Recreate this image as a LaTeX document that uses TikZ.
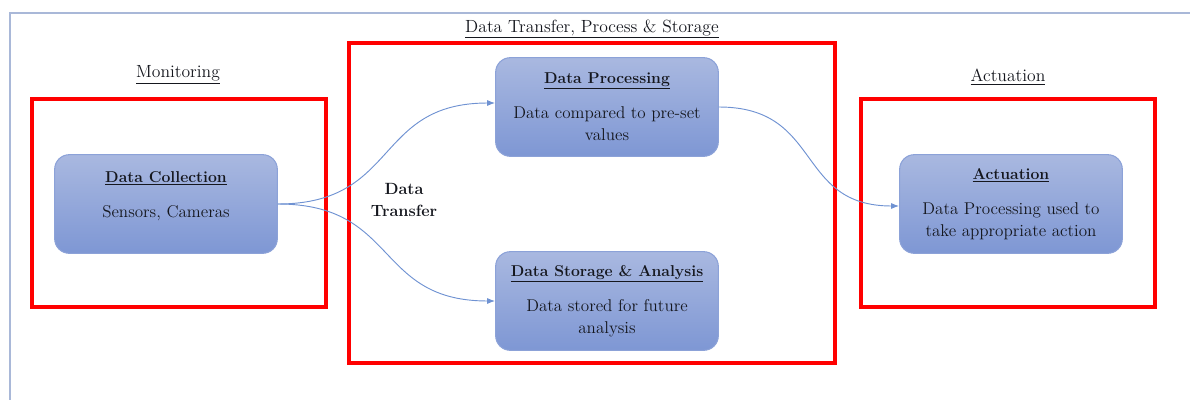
\documentclass[tikz,border=0pt]{standalone}
\usepackage{fontspec}
\usetikzlibrary{arrows.meta}

\definecolor{framecol}{HTML}{A9B8D8}
\definecolor{boxtop}{HTML}{A9B8E0}
\definecolor{boxbot}{HTML}{7E97D4}
\definecolor{boxline}{HTML}{8CA2D8}
\definecolor{flowcol}{HTML}{6F92D2}
\definecolor{txtcol}{HTML}{15171E}

\newcommand{\headline}[1]{{\fontsize{11.8}{16.5}\selectfont\underline{\textbf{#1}}}}

\tikzset{
  stage/.style={draw=boxline, line width=0.8pt, rounded corners=11pt,
    top color=boxtop, bottom color=boxbot, text=txtcol,
    minimum width=167pt, minimum height=74pt, align=center,
    font=\fontsize{12.8}{16.5}\selectfont},
  redbox/.style={draw=red, line width=2.6pt},
  phase/.style={text=txtcol, font=\fontsize{13.2}{16.5}\selectfont},
  flow/.style={draw=flowcol, line width=0.7pt, -{Latex[length=6pt,width=4.5pt]}}
}

\begin{document}
\begin{tikzpicture}[x=0.75pt, y=-0.75pt]
  \useasboundingbox (0,0) rectangle (1190,400);

  % outer frame (runs off the page right and bottom)
  \draw[framecol, line width=1.6pt] (1190,13) -- (10,13) -- (10,400);

  % the three phases
  \draw[redbox] (32,99) rectangle (326,307);
  \draw[redbox] (349,43) rectangle (835,363);
  \draw[redbox] (861,99) rectangle (1155,307);

  \node[phase] (mon) at (178,75) {\underline{Monitoring}};
  \node[phase] (mid) at (592,29) {\underline{Data Transfer, Process \& Storage}};
  \node[phase] (act) at (1008,77) {\underline{Actuation}};

  % blocks
  \node[stage] (collect) at (166,204)
    {\headline{Data Collection}\\[10pt]Sensors, Cameras\\[-2pt]\mbox{}};
  \node[stage] (process) at (607,107)
    {\headline{Data Processing}\\[10pt]Data compared to pre-set\\values};
  \node[stage] (store) at (607,301)
    {\headline{Data Storage \& Analysis}\\[10pt]Data stored for future\\analysis};
  \node[stage] (actuate) at (1011,204)
    {\headline{Actuation}\\[10pt]Data Processing used to\\take appropriate action};

  \node[phase, font=\fontsize{12.2}{16.5}\selectfont\bfseries, align=center]
    (transfer) at (404,200) {Data\\Transfer};

  % connectors
  \draw[flow] (collect.east) to[out=0, in=180, looseness=1.3] ([yshift=3pt]process.west);
  \draw[flow] (collect.east) to[out=0, in=180, looseness=1.3] (store.west);
  \draw[flow] (process.east) to[out=0, in=180, looseness=1.3] ([yshift=-1.5pt]actuate.west);
\end{tikzpicture}
\end{document}
